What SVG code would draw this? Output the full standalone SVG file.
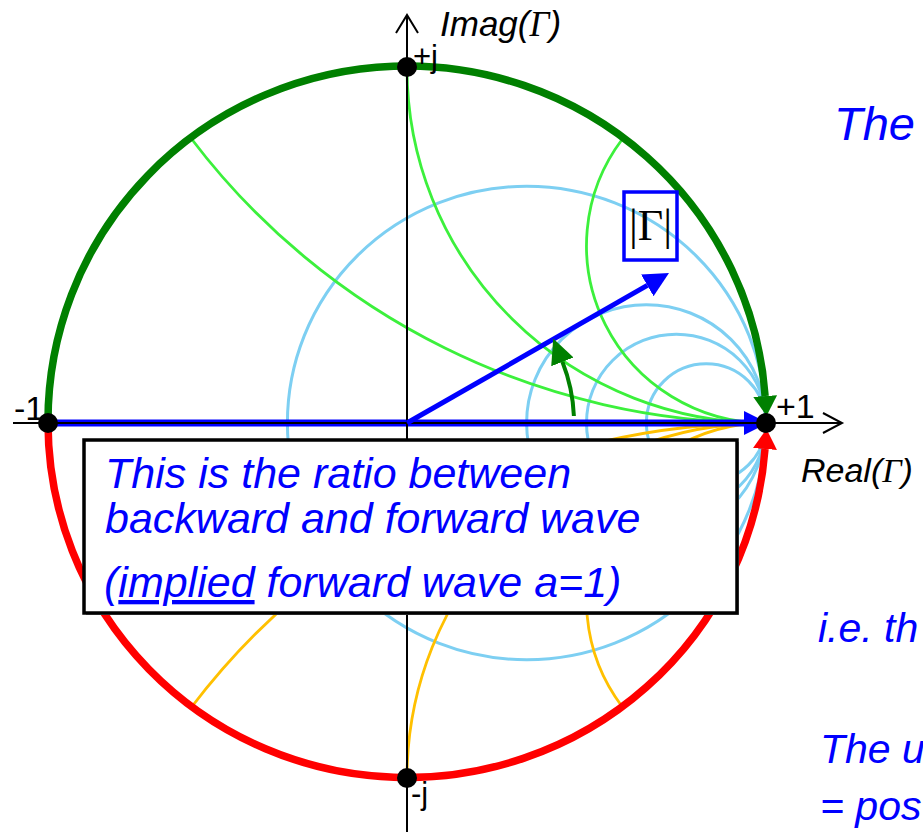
<svg xmlns="http://www.w3.org/2000/svg" width="923" height="832" viewBox="0 0 923 832">
<defs>
<style>
.rc{fill:none;stroke:#7dcff2;stroke-width:3}
.xp{fill:none;stroke:#3cf03c;stroke-width:2.8}
.xn{fill:none;stroke:#ffc000;stroke-width:2.8}
.ax{fill:none;stroke:#000;stroke-width:2}
.dot{fill:#000}
.lbl{font-family:"Liberation Sans",Arial,sans-serif;fill:#000}
.it{font-family:"Liberation Sans",Arial,sans-serif;font-style:italic;fill:#0000ff}
.gam{font-family:"Liberation Serif","Times New Roman",serif;font-style:italic}
</style>
<marker id="ahG" markerUnits="userSpaceOnUse" markerWidth="30" markerHeight="30" viewBox="0 -15 30 30" refX="0" refY="0" orient="auto"><path d="M0,-12 L20,0 L0,12 z" fill="#008000"/></marker>
<marker id="ahR" markerUnits="userSpaceOnUse" markerWidth="30" markerHeight="30" viewBox="0 -15 30 30" refX="0" refY="0" orient="auto"><path d="M0,-12 L20,0 L0,12 z" fill="#ff0000"/></marker>
<marker id="ahB" markerUnits="userSpaceOnUse" markerWidth="30" markerHeight="30" viewBox="0 -15 30 30" refX="0" refY="0" orient="auto"><path d="M0,-12 L24,0 L0,12 z" fill="#0000ff"/></marker>
<marker id="ahB2" markerUnits="userSpaceOnUse" markerWidth="30" markerHeight="30" viewBox="0 -15 30 30" refX="0" refY="0" orient="auto"><path d="M0,-12.5 L25,0 L0,12.5 z" fill="#0000ff"/></marker>
<marker id="ahG2" markerUnits="userSpaceOnUse" markerWidth="30" markerHeight="30" viewBox="0 -15 30 30" refX="0" refY="0" orient="auto"><path d="M0,-12 L25,0 L0,12 z" fill="#008000"/></marker>
</defs>
<rect width="923" height="832" fill="#fff"/>

<g id="resistance-circles">
<ellipse class="rc" cx="526.7" cy="423" rx="239.3" ry="236.7"/>
<ellipse class="rc" cx="646.3" cy="423" rx="119.7" ry="118.3"/>
<ellipse class="rc" cx="676.3" cy="423" rx="89.8" ry="88.8"/>
<ellipse class="rc" cx="706.2" cy="423" rx="59.8" ry="59.2"/>
</g>
<g id="reactance-arcs">
<path class="xp" d="M191.6 139 A718 710 0 0 0 766 423"/>
<path class="xp" d="M407 68 A359 355 0 0 0 766 423"/>
<path class="xp" d="M622.4 139 A179.5 177.5 0 0 0 766 423"/>
<path class="xn" d="M191.6 707 A718 710 0 0 1 766 423"/>
<path class="xn" d="M407 778 A359 355 0 0 1 766 423"/>
<path class="xn" d="M622.4 707 A179.5 177.5 0 0 1 766 423"/>
</g>

<g id="connectors">
<path id="unit-upper" d="M48 423 A359 355 0 0 1 765.1 396" fill="none" stroke="#008000" stroke-width="7.5" marker-end="url(#ahG)"/>
<path id="unit-lower" d="M48 423 A359 355 0 0 0 765 449" fill="none" stroke="#ff0000" stroke-width="7.5" marker-end="url(#ahR)"/>
<path id="real-arrow" d="M48 423 H744" fill="none" stroke="#0000ff" stroke-width="7" marker-end="url(#ahB)"/>
<g id="axes">
<path class="ax" d="M13 423 H841"/>
<path class="ax" d="M823 413 L842 423 L823 433"/>
<path class="ax" d="M407 832 V16"/>
<path class="ax" d="M396 33 L407 15 L418 33"/>
</g>
<path id="gamma-vector" d="M407 423 L647.3 285.4" fill="none" stroke="#0000ff" stroke-width="5" marker-end="url(#ahB2)"/>
<path id="angle-arc" d="M573.9 416 A167 167 0 0 0 562.4 361.8" fill="none" stroke="#008000" stroke-width="4" marker-end="url(#ahG2)"/>
</g>

<g id="gamma-label">
<rect x="624" y="192" width="53" height="68" fill="none" stroke="#0000ff" stroke-width="3.5"/>
<text x="650.5" y="240" font-family="'Liberation Serif','Times New Roman',serif" font-size="44" text-anchor="middle" fill="#000">|Γ|</text>
</g>

<g id="note-box">
<rect x="86" y="442" width="653" height="173" fill="#999"/>
<rect x="84" y="440" width="653" height="173" fill="#fff" stroke="#000" stroke-width="3.5"/>
<text class="it" font-size="43" x="105" y="488">This is the ratio between</text>
<text class="it" font-size="43" x="105" y="533">backward and forward wave</text>
<text class="it" font-size="43" x="104" y="597">(<tspan text-decoration="underline">implied</tspan> forward wave a=1)</text>
</g>

<g id="points">
<circle id="pt-minus1" class="dot" cx="48" cy="423" r="10"/>
<circle id="pt-plusj" class="dot" cx="407" cy="67" r="10"/>
<circle id="pt-plus1" class="dot" cx="766" cy="423" r="10"/>
<circle id="pt-minusj" class="dot" cx="407" cy="778" r="10"/>
</g>

<g id="labels">
<text class="lbl" font-size="31" x="413" y="67">+j</text>
<text class="lbl" font-size="31" x="411" y="804">-j</text>
<text class="lbl" font-size="34" x="14" y="420">-1</text>
<text class="lbl" font-size="34" x="776" y="418">+1</text>
<text class="lbl" font-size="35" font-style="italic" x="440" y="36">Imag(<tspan class="gam">Γ</tspan>)</text>
<text class="lbl" font-size="34" font-style="italic" x="801" y="482">Real(<tspan class="gam">Γ</tspan>)</text>
</g>

<g id="side-text">
<text class="it" font-size="47" x="834" y="140">The</text>
<text class="it" font-size="41" x="818" y="642">i.e. th</text>
<text class="it" font-size="41" x="820" y="763">The u</text>
<text class="it" font-size="41" x="820" y="820">= pos</text>
</g>
</svg>
